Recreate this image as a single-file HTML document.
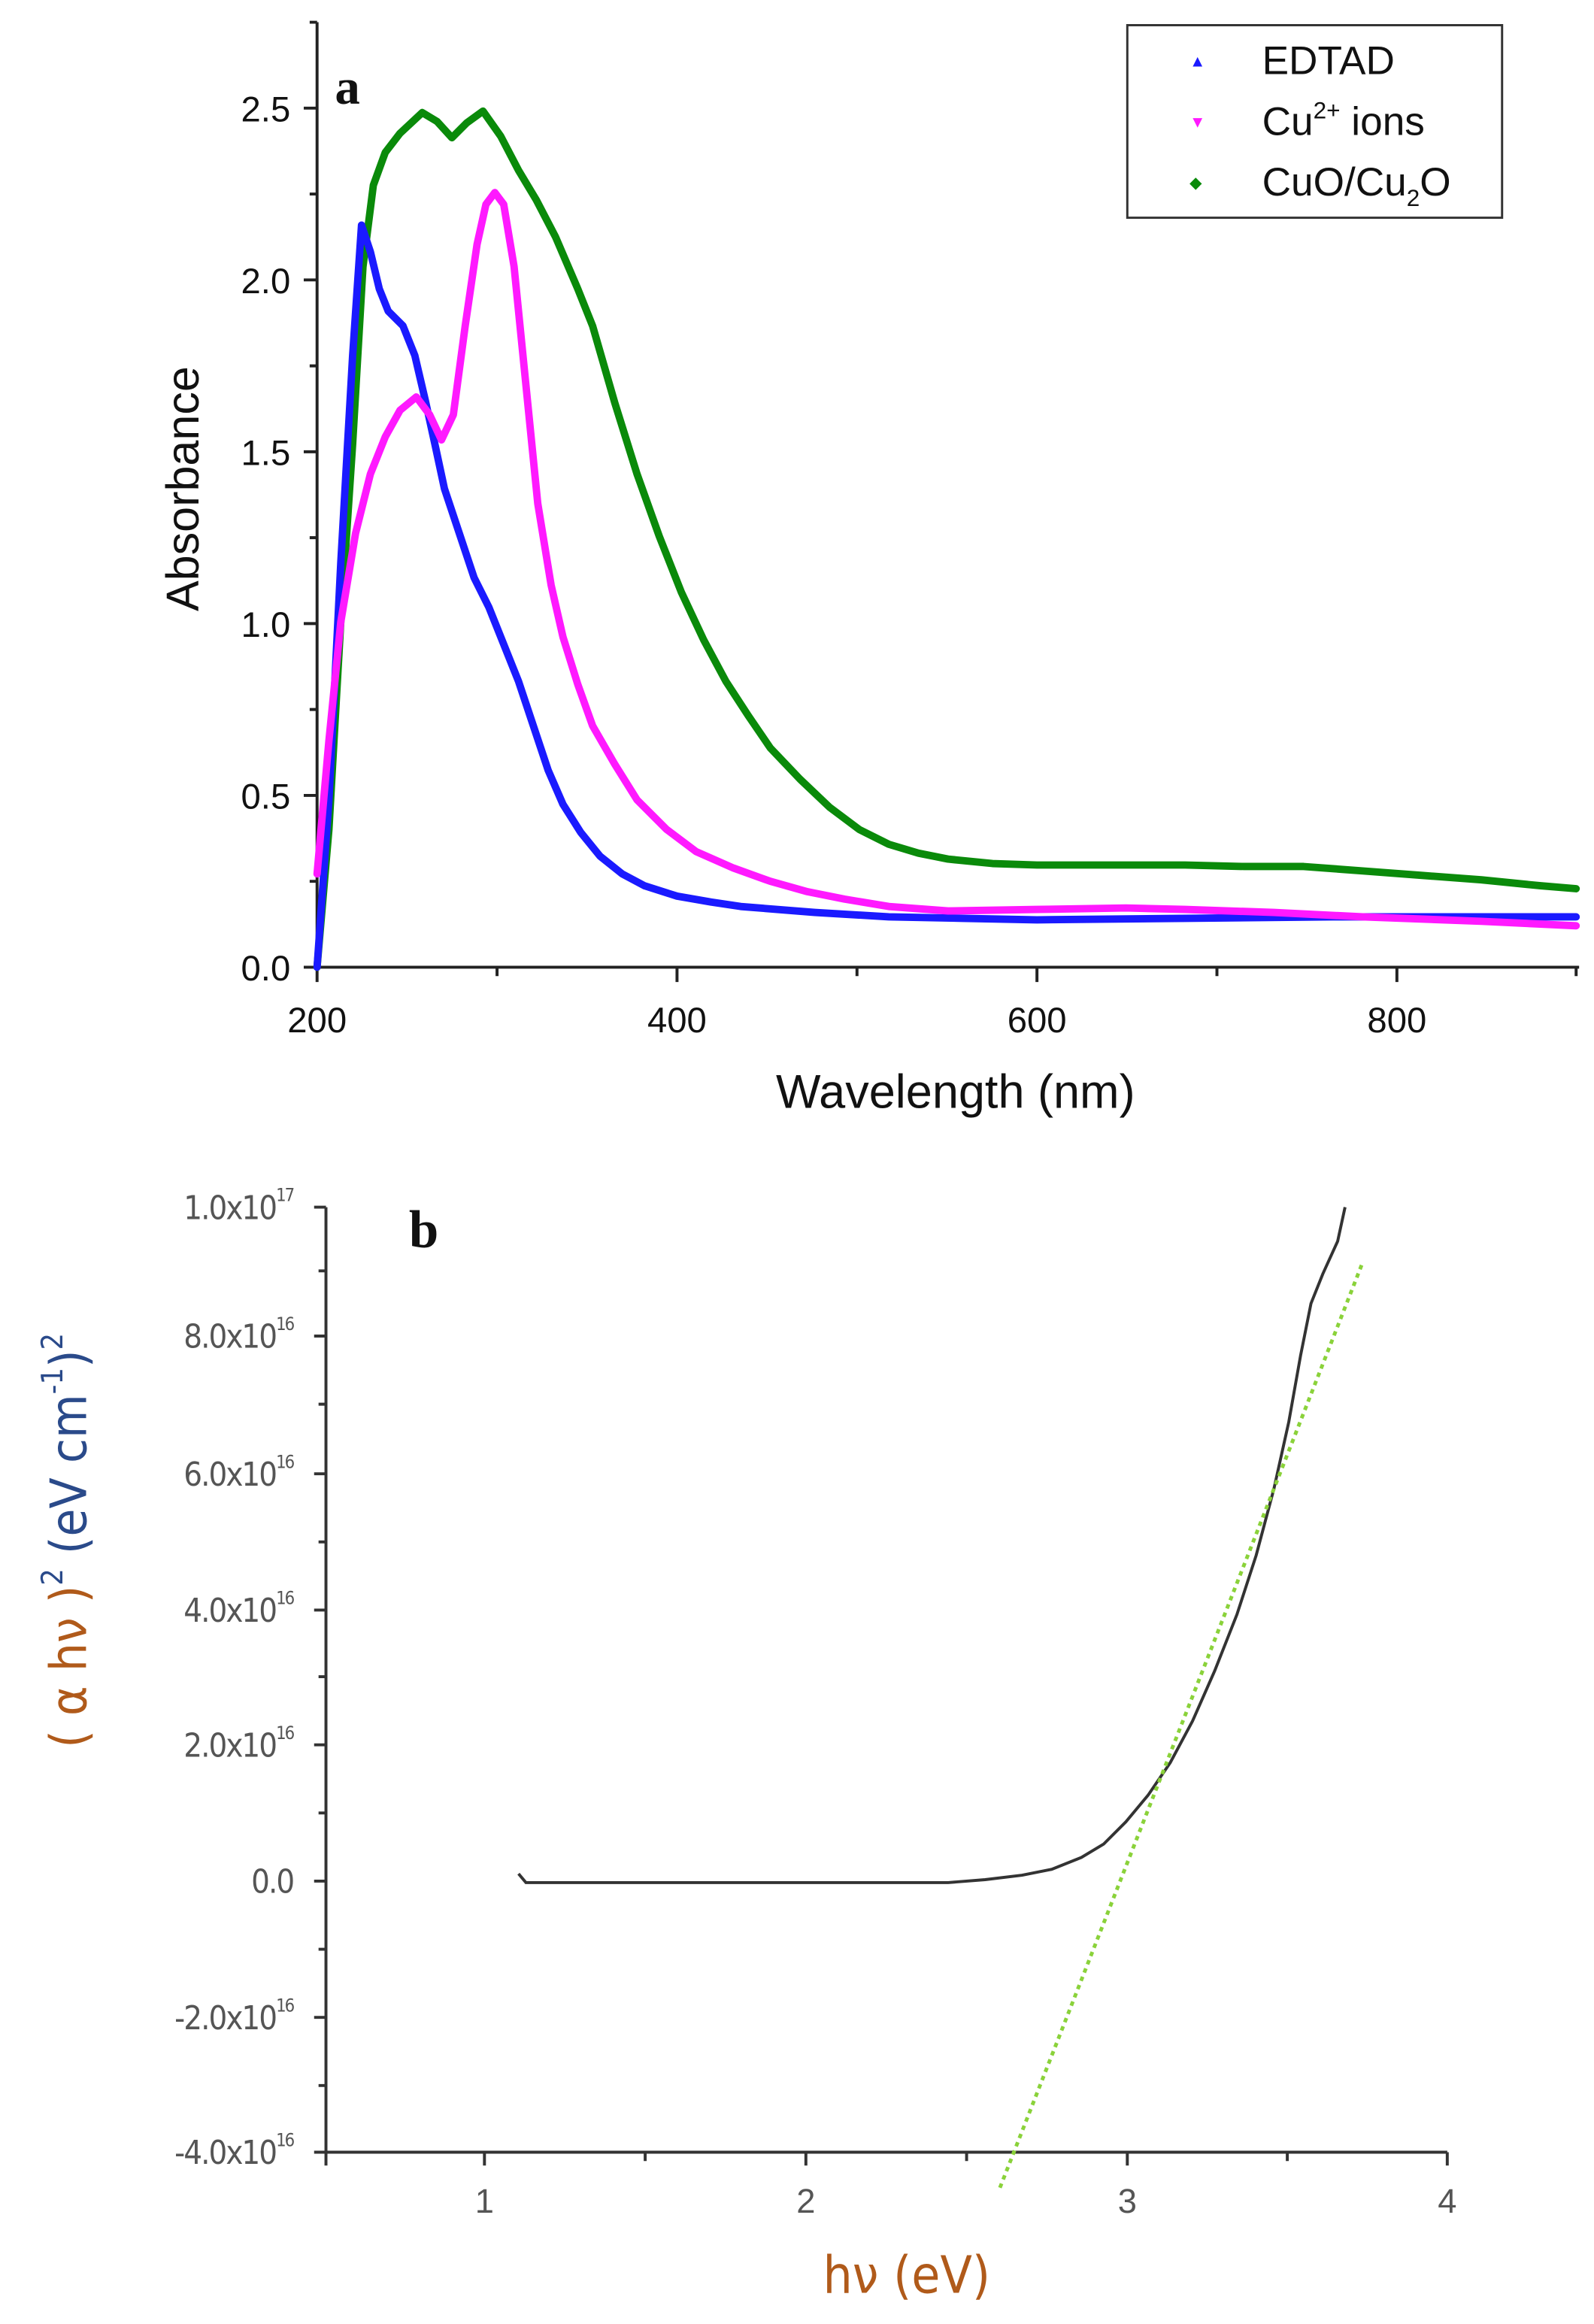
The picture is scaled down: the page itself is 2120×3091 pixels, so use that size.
<!DOCTYPE html>
<html><head><meta charset="utf-8"><style>html,body{margin:0;padding:0;background:#fff}svg{display:block}</style></head>
<body>
<svg width="2120" height="3091" viewBox="0 0 1076 1569" xmlns="http://www.w3.org/2000/svg" font-family="Liberation Sans, sans-serif">
<rect width="1076" height="1569" fill="#fff"/>
<!-- Plot a axes -->
<g stroke="#222" stroke-width="2" fill="none">
<path d="M214,15 V653 H1066"/>
<path d="M214,653 v10 M457,653 v10 M700,653 v10 M943,653 v10 M335.5,653 v6 M578.5,653 v6 M821.5,653 v6 M1064,653 v6"/>
<path d="M214,653 h-9 M214,537 h-9 M214,421 h-9 M214,305 h-9 M214,189 h-9 M214,73 h-9 M214,595 h-5 M214,479 h-5 M214,363 h-5 M214,247 h-5 M214,131 h-5 M214,15 h-5"/>
</g>
<g font-size="24" fill="#111" text-anchor="end">
<text x="196" y="662">0.0</text><text x="196" y="546">0.5</text><text x="196" y="430">1.0</text><text x="196" y="314">1.5</text><text x="196" y="198">2.0</text><text x="196" y="82">2.5</text>
</g>
<g font-size="24" fill="#111" text-anchor="middle">
<text x="214" y="697">200</text><text x="457" y="697">400</text><text x="700" y="697">600</text><text x="943" y="697">800</text>
</g>
<text x="645" y="748" font-size="32" text-anchor="middle" fill="#111">Wavelength (nm)</text>
<text transform="translate(134,330) rotate(-90)" font-size="31" text-anchor="middle" fill="#111">Absorbance</text>
<text x="226" y="70" font-size="34" font-weight="bold" font-family="Liberation Serif, serif" fill="#111">a</text>
<g fill="none" stroke-width="5" stroke-linejoin="round" stroke-linecap="round">
<path stroke="#0a8a0a" d="M214,653 L222,560 L230,420 L238,300 L245,180 L252,125 L260,103 L270,90 L285,76 L295,82 L305,93 L315,83 L326,75 L338,92 L350,115 L362,135 L375,160 L390,195 L400,220 L415,272 L430,320 L445,362 L460,400 L475,432 L490,460 L505,483 L520,505 L540,526 L560,545 L580,560 L600,570 L620,576 L640,580 L670,583 L700,584 L760,584 L800,584 L840,585 L880,585 L920,588 L960,591 L1000,594 L1040,598 L1064,600"/>
<path stroke="#1a1aff" d="M214,653 L222,540 L230,380 L238,240 L244,152 L250,170 L256,195 L262,210 L272,220 L280,240 L287,270 L294,302 L300,330 L310,360 L320,390 L330,410 L340,435 L350,460 L360,490 L370,520 L380,543 L392,562 L405,578 L420,590 L435,598 L457,605 L480,609 L500,612 L550,616 L600,619 L650,620 L700,621 L800,620 L900,619 L1064,619"/>
<path stroke="#ff19ff" d="M214,590 L222,500 L230,420 L240,360 L250,320 L260,295 L270,277 L281,268 L290,280 L298,297 L306,280 L314,220 L322,165 L328,138 L334,130 L340,138 L347,180 L355,260 L363,340 L372,395 L380,430 L390,462 L400,490 L415,516 L430,540 L450,560 L470,575 L495,586 L520,595 L545,602 L570,607 L600,612 L640,615 L700,614 L760,613 L800,614 L860,616 L920,619 L1000,622 L1064,625"/>
</g>
<rect x="761" y="17" width="253" height="130" fill="#fff" stroke="#333" stroke-width="1.5"/>
<g font-size="27" fill="#111">
<text x="803" y="45" font-size="11" fill="#1a1aff">▲</text><text x="852" y="50">EDTAD</text>
<text x="803" y="86" font-size="11" fill="#ff19ff">▼</text><text x="852" y="91">Cu<tspan font-size="16" dy="-11">2+</tspan><tspan dy="11"> ions</tspan></text>
<text x="803" y="127" font-size="11" fill="#0a8a0a">◆</text><text x="852" y="132">CuO/Cu<tspan font-size="16" dy="7">2</tspan><tspan dy="-7">O</tspan></text>
</g>
<!-- Plot b -->
<g stroke="#333" stroke-width="2" fill="none">
<path d="M220,815 V1453 H977"/>
<path d="M220,815 h-8 M220,902 h-8 M220,995 h-8 M220,1087 h-8 M220,1178 h-8 M220,1270 h-8 M220,1362 h-8 M220,1453 h-8"/>
<path d="M220,858 h-5 M220,948 h-5 M220,1041 h-5 M220,1132 h-5 M220,1224 h-5 M220,1316 h-5 M220,1408 h-5"/>
<path d="M327,1453 v9 M544,1453 v9 M761,1453 v9 M977,1453 v9 M220,1453 v9 M435.5,1453 v6 M652.5,1453 v6 M869,1453 v6"/>
</g>
<g font-size="22" fill="#555" text-anchor="end" font-family="DejaVu Sans Condensed, Liberation Sans Narrow, Liberation Sans, sans-serif" letter-spacing="-1">
<text x="198" y="823">1.0x10<tspan font-size="12" dy="-12">17</tspan></text>
<text x="198" y="910">8.0x10<tspan font-size="12" dy="-12">16</tspan></text>
<text x="198" y="1003">6.0x10<tspan font-size="12" dy="-12">16</tspan></text>
<text x="198" y="1095">4.0x10<tspan font-size="12" dy="-12">16</tspan></text>
<text x="198" y="1186">2.0x10<tspan font-size="12" dy="-12">16</tspan></text>
<text x="198" y="1278">0.0</text>
<text x="198" y="1370">-2.0x10<tspan font-size="12" dy="-12">16</tspan></text>
<text x="198" y="1461">-4.0x10<tspan font-size="12" dy="-12">16</tspan></text>
</g>
<g font-size="23" fill="#555" text-anchor="middle">
<text x="327" y="1494">1</text><text x="544" y="1494">2</text><text x="761" y="1494">3</text><text x="977" y="1494">4</text>
</g>
<text x="612" y="1548" font-size="35" text-anchor="middle" fill="#b05a1a" font-family="DejaVu Sans Condensed, Liberation Sans, sans-serif">hν (eV)</text>
<text transform="translate(58,1040) rotate(-90)" font-size="34" text-anchor="middle" font-family="DejaVu Sans Condensed, Liberation Sans, sans-serif"><tspan fill="#b05a1a">( α hν )</tspan><tspan fill="#2a4a8a" font-size="20" dy="-16">2</tspan><tspan fill="#2a4a8a" dy="16">   (eV cm</tspan><tspan fill="#2a4a8a" font-size="20" dy="-16">-1</tspan><tspan fill="#2a4a8a" dy="16">)</tspan><tspan fill="#2a4a8a" font-size="20" dy="-16">2</tspan></text>
<text x="276" y="842" font-size="36" font-weight="bold" font-family="Liberation Serif, serif" fill="#111">b</text>
<path fill="none" stroke="#333" stroke-width="2" d="M350,1265 L355,1271 L450,1271 L550,1271 L640,1271 L665,1269 L690,1266 L710,1262 L730,1254 L745,1245 L760,1230 L775,1212 L790,1190 L805,1162 L820,1128 L835,1090 L848,1050 L860,1005 L870,960 L878,915 L885,880 L893,860 L903,838 L908,815"/>
<path fill="none" stroke="#8ad23a" stroke-width="2.5" stroke-dasharray="3 3" d="M675,1477 L920,852"/>
</svg>
</body></html>
